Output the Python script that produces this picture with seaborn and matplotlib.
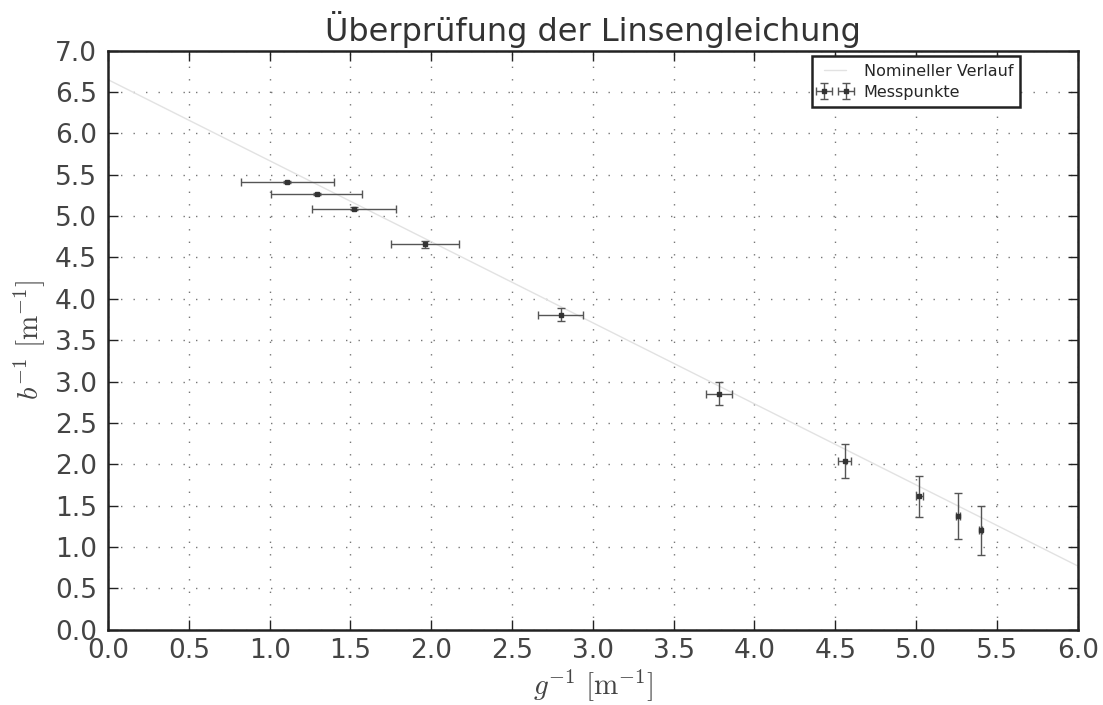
import matplotlib
matplotlib.use('Agg')
import numpy as np
import pandas as pd
import matplotlib.pyplot as plt
import seaborn as sns

g_inv = [1.11, 1.29, 1.52, 1.96, 2.80, 3.78, 4.56, 5.02, 5.26, 5.40]
b_inv = [5.41, 5.27, 5.09, 4.66, 3.81, 2.85, 2.04, 1.61, 1.37, 1.20]
g_inv_err = [0.29, 0.28, 0.26, 0.21, 0.14, 0.08, 0.04, 0.02, 0.01, 0.01]
b_inv_err = [0.01, 0.01, 0.02, 0.04, 0.08, 0.14, 0.21, 0.25, 0.28, 0.30]

# Nomineller Verlauf (Endpunkte)
nominal_x = [0.0, 6.0]
nominal_y = [6.65, 0.77]

x_ticks = np.arange(0, 6.01, 0.5)
y_ticks = np.arange(0, 7.01, 0.5)

sns.set_theme(style='white', rc={
    'axes.edgecolor': '#222222',
    'axes.linewidth': 1.8,
    'xtick.direction': 'in',
    'ytick.direction': 'in',
    'xtick.top': True,
    'ytick.right': True,
    'xtick.bottom': True,
    'ytick.left': True,
    'xtick.major.size': 7,
    'ytick.major.size': 7,
    'xtick.major.width': 1,
    'ytick.major.width': 1,
    'xtick.color': '#222222',
    'ytick.color': '#222222',
    'legend.numpoints': 2,
})
plt.rcParams['font.family'] = ['DejaVu Sans']
plt.rcParams['mathtext.fontset'] = 'cm'

df_meas = pd.DataFrame({'g_inv': g_inv, 'b_inv': b_inv})
df_nom = pd.DataFrame({'x': nominal_x, 'y': nominal_y})

fig, ax = plt.subplots(figsize=(11.03, 7.05), dpi=100)
fig.subplots_adjust(left=0.098, right=0.977, top=0.928, bottom=0.107)

sns.lineplot(data=df_nom, x='x', y='y', ax=ax, color='#e2e2e2', linewidth=1,
             label='Nomineller Verlauf')
ax.errorbar(df_meas['g_inv'], df_meas['b_inv'], xerr=g_inv_err, yerr=b_inv_err,
            fmt='s', markersize=3, color='#333333', ecolor='#555555',
            elinewidth=1, capsize=3, capthick=1, label='Messpunkte')

ax.set_xlim(0, 6)
ax.set_ylim(0, 7)
ax.set_xticks(x_ticks)
ax.set_yticks(y_ticks)
ax.tick_params(axis='x', labelsize=19, pad=6, labelcolor='#444444')
ax.tick_params(axis='y', labelsize=19, pad=8, labelcolor='#444444')

ax.grid(True, color='#777777', linewidth=1, linestyle=(0, (1, 8)))

ax.set_title('Überprüfung der Linsengleichung', fontsize=23, pad=7, color='#333333')
ax.set_xlabel(r'$g^{-1}\ [\mathrm{m}^{-1}]$', fontsize=21, color='#444444', labelpad=2)
ax.set_ylabel(r'$b^{-1}\ [\mathrm{m}^{-1}]$', fontsize=21, color='#444444', labelpad=6)

leg = ax.legend(loc='upper right', bbox_to_anchor=(0.949, 1.004), fontsize=11.5,
                fancybox=False, framealpha=1, borderpad=0.45, handlelength=2,
                labelspacing=0.4)
leg.get_frame().set_edgecolor('#222222')
leg.get_frame().set_linewidth(1.8)

plt.savefig('out.png', dpi=100)
